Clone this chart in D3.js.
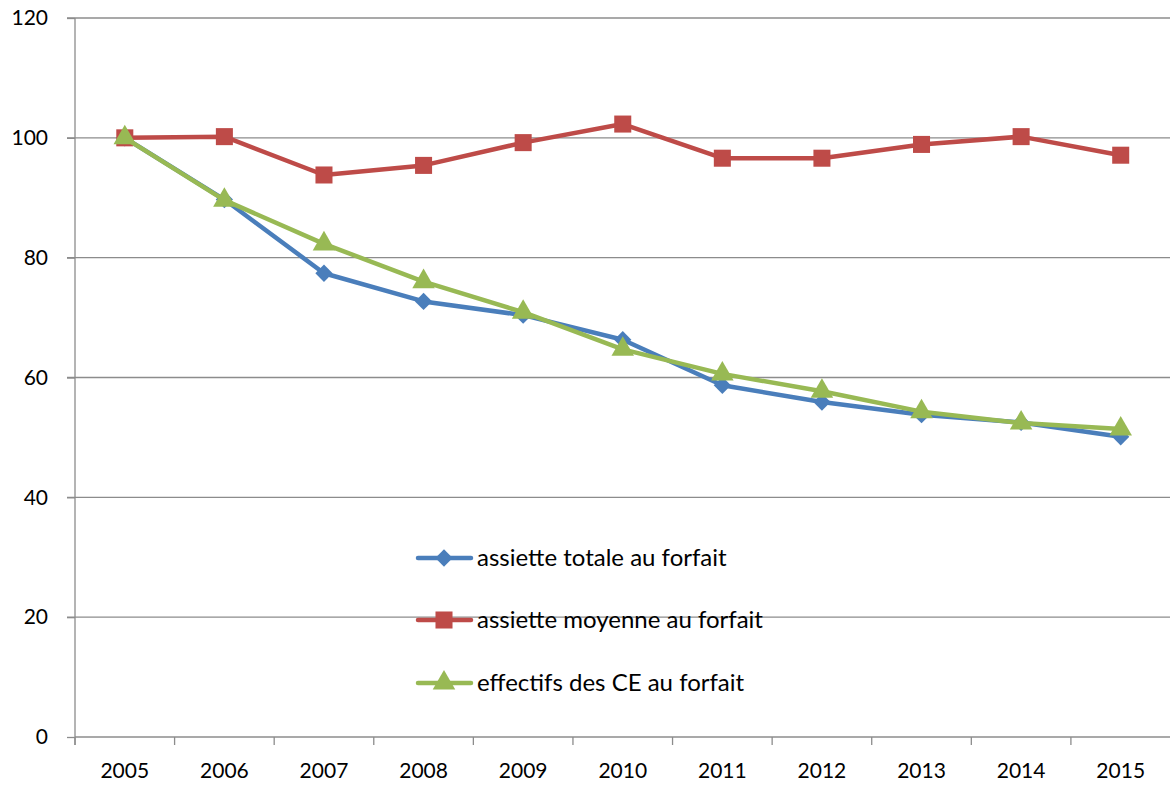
<!DOCTYPE html>
<html><head><meta charset="utf-8">
<script src="https://cdn.jsdelivr.net/npm/d3@7"></script>
<style>body{margin:0;background:#fff}svg{display:block}</style>
</head><body>
<script>
const years = ["2005","2006","2007","2008","2009","2010","2011","2012","2013","2014","2015"];
const assietteTotale = [100, 89.7, 77.4, 72.7, 70.4, 66.3, 58.7, 55.9, 53.8, 52.5, 50.1];
const assietteMoyenne = [100, 100.2, 93.8, 95.4, 99.2, 102.3, 96.6, 96.6, 98.9, 100.2, 97.1];
const effectifs = [100, 89.6, 82.3, 76.0, 70.9, 64.7, 60.6, 57.7, 54.3, 52.4, 51.4];
const yTicks = [0, 20, 40, 60, 80, 100, 120];
const seriesNames = ["assiette totale au forfait", "assiette moyenne au forfait", "effectifs des CE au forfait"];

(function () {
const W = 1170, H = 787;
const mLeft = 75, mRight = 1170, mTop = 18, mBottom = 737;
const svg = d3.select("body").append("svg").attr("width", W).attr("height", H);
const font = "Lato, 'Open Sans', sans-serif";

const x = d3.scaleBand().domain(years).range([mLeft, mRight + 0.5]);
const y = d3.scaleLinear().domain([0, 120]).range([mBottom, mTop]);

// gridlines
svg.append("g").selectAll("line").data(yTicks.filter(d => d > 0)).join("line")
  .attr("x1", mLeft - 8).attr("x2", mRight).attr("y1", d => y(d)).attr("y2", d => y(d))
  .attr("stroke", "#8c8c8c").attr("stroke-width", 1.3);

// y axis
const yAxis = svg.append("g").attr("transform", `translate(${mLeft},0)`)
  .call(d3.axisLeft(y).tickValues(yTicks).tickSize(8).tickPadding(19));
yAxis.select(".domain").attr("stroke", "#8c8c8c").attr("stroke-width", 1.3).attr("d", `M0,${mTop}V${mBottom + 8}`);
yAxis.selectAll(".tick line").attr("stroke", "#8c8c8c").attr("stroke-width", 1.3);
yAxis.selectAll("text").attr("font-family", font).attr("font-size", 21).attr("fill", "#000");

// x axis
const xAxis = svg.append("g").attr("transform", `translate(0,${mBottom})`)
  .call(d3.axisBottom(x).tickSize(0).tickPadding(26));
xAxis.select(".domain").attr("stroke", "#8c8c8c").attr("stroke-width", 1.3).attr("d", `M${mLeft},0H${mRight}`);
xAxis.selectAll("text").attr("font-family", font).attr("font-size", 21).attr("fill", "#000");
// category separators
svg.append("g").selectAll("line").data(years).join("line")
  .attr("x1", d => x(d)).attr("x2", d => x(d)).attr("y1", mBottom).attr("y2", mBottom + 8)
  .attr("stroke", "#8c8c8c").attr("stroke-width", 1.3);

const cx = d => x(d) + x.bandwidth() / 2;
const series = [
  {name: seriesNames[0], data: assietteTotale, color: "#4A7EBB", sym: d3.symbolDiamond2, size: 190},
  {name: seriesNames[1], data: assietteMoyenne, color: "#BE4B48", sym: d3.symbolSquare, size: 290},
  {name: seriesNames[2], data: effectifs, color: "#98B954", sym: d3.symbolTriangle, size: 220}
];

const line = d3.line().x((d, i) => cx(years[i])).y(d => y(d));

series.forEach(s => {
  svg.append("path").datum(s.data).attr("d", line).attr("fill", "none")
    .attr("stroke", s.color).attr("stroke-width", 4.5).attr("stroke-linejoin", "round");
  svg.append("g").selectAll("path").data(s.data).join("path")
    .attr("transform", (d, i) => `translate(${cx(years[i])},${y(d)})`)
    .attr("d", d3.symbol().type(s.sym).size(s.size))
    .attr("fill", s.color);
});

// legend
const legY = [558, 620, 683];
series.forEach((s, i) => {
  const g = svg.append("g").attr("transform", `translate(0,${legY[i]})`);
  g.append("line").attr("x1", 418).attr("x2", 471).attr("y1", 0).attr("y2", 0)
    .attr("stroke", s.color).attr("stroke-width", 4.5).attr("stroke-linecap", "round");
  g.append("path").attr("transform", "translate(444,0)")
    .attr("d", d3.symbol().type(s.sym).size(s.size)).attr("fill", s.color);
  g.append("text").attr("x", 477).attr("y", 0).attr("dy", "0.35em")
    .attr("font-family", font).attr("font-size", 24).attr("fill", "#000").text(s.name);
});
})();
</script>
</body></html>
